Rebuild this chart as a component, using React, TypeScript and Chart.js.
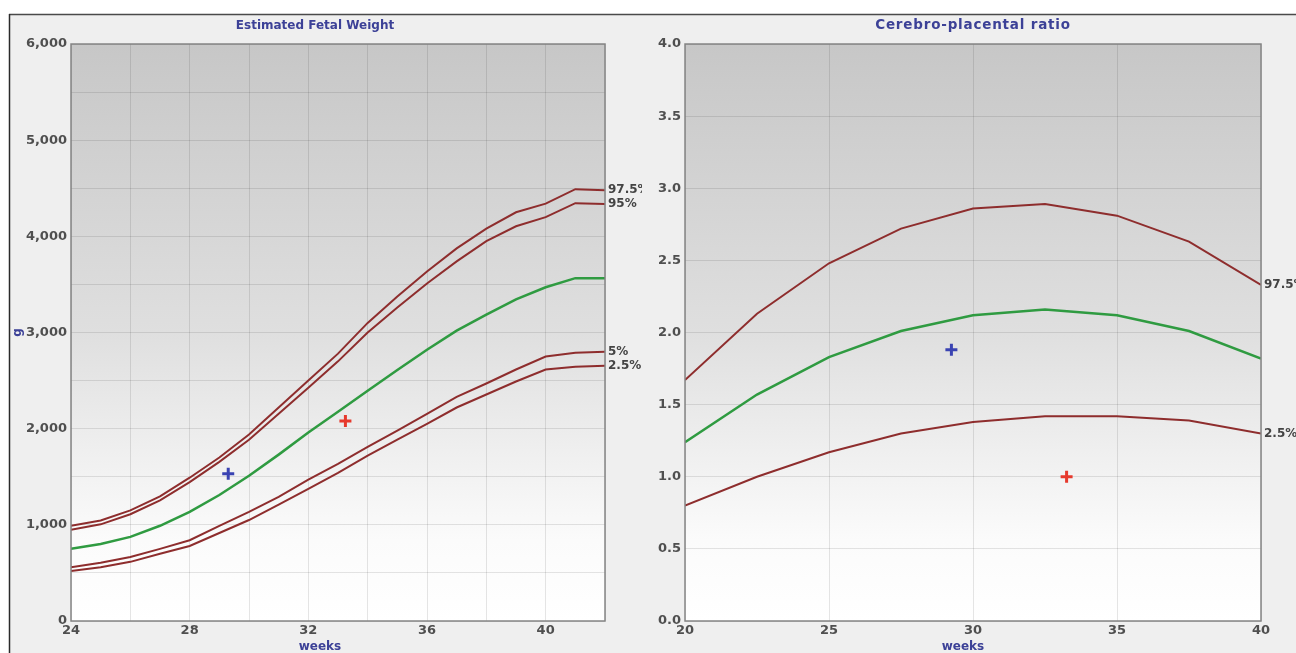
import React, { useEffect, useRef } from 'react';
import { Chart, registerables } from 'chart.js';

Chart.register(...registerables);

// ---------- Estimated Fetal Weight (g) by gestational week ----------
const efwWeeks = [24, 25, 26, 27, 28, 29, 30, 31, 32, 33, 34, 35, 36, 37, 38, 39, 40, 41, 42];
const efwP975 = [990, 1045, 1150, 1295, 1490, 1700, 1940, 2220, 2500, 2780, 3100, 3375, 3635, 3875, 4080, 4250, 4340, 4490, 4480];
const efwP95 = [950, 1005, 1110, 1255, 1445, 1655, 1885, 2155, 2425, 2700, 3000, 3260, 3510, 3740, 3950, 4105, 4200, 4345, 4335];
const efwP50 = [750, 800, 875, 990, 1135, 1310, 1510, 1730, 1960, 2175, 2395, 2610, 2820, 3020, 3185, 3345, 3470, 3565, 3565];
const efwP5 = [560, 605, 665, 750, 840, 990, 1135, 1290, 1470, 1635, 1810, 1980, 2155, 2330, 2470, 2615, 2750, 2790, 2800];
const efwP25 = [520, 560, 615, 700, 780, 915, 1050, 1210, 1375, 1540, 1720, 1885, 2050, 2220, 2355, 2490, 2615, 2645, 2655];
const efwMarkWeeks = [29.3, 33.25];
const efwMarkValues = [1530, 2080];

// ---------- Cerebro-placental ratio by gestational week ----------
const cprWeeks = [20, 22.5, 25, 27.5, 30, 32.5, 35, 37.5, 40];
const cprP975 = [1.67, 2.13, 2.48, 2.72, 2.86, 2.89, 2.81, 2.63, 2.33];
const cprP50 = [1.24, 1.57, 1.83, 2.01, 2.12, 2.16, 2.12, 2.01, 1.82];
const cprP25 = [0.8, 1.0, 1.17, 1.3, 1.38, 1.42, 1.42, 1.39, 1.3];
const cprMarkWeeks = [29.25, 33.25];
const cprMarkValues = [1.88, 1.0];

const markColors = ['#3a43b2', '#e6392d'];
const RED = '#8e2d2d';
const GREEN = '#2f9b41';
const BLUE_TEXT = '#3c4197';
const TICK_FONT = { family: 'DejaVu Sans', size: 13, weight: 'bold' as const };

const zip = (xs: number[], ys: number[]) => xs.map((x, i) => ({ x, y: ys[i] }));

const decorPlugin = {
  id: 'decor',
  beforeDraw(chart: any, _args: any, opts: any) {
    const { ctx, chartArea: a, width, height } = chart;
    ctx.save();
    ctx.fillStyle = '#ffffff';
    ctx.fillRect(0, 0, width, height);
    ctx.fillStyle = '#efefef';
    ctx.fillRect(opts.panelLeft, 14, width - opts.panelLeft, height - 14);
    const g = ctx.createLinearGradient(0, a.top, 0, a.bottom);
    g.addColorStop(0, '#c7c7c7');
    g.addColorStop(0.5, '#dfdfdf');
    g.addColorStop(0.86, '#fbfbfb');
    g.addColorStop(1, '#ffffff');
    ctx.fillStyle = g;
    ctx.fillRect(a.left, a.top, a.right - a.left, a.bottom - a.top);
    ctx.restore();
  },
  afterDraw(chart: any, _args: any, opts: any) {
    const { ctx, chartArea: a, width, height } = chart;
    ctx.save();
    // plot frame
    ctx.strokeStyle = '#858585';
    ctx.lineWidth = 1.5;
    ctx.strokeRect(a.left, a.top, a.right - a.left, a.bottom - a.top);
    // panel borders
    ctx.strokeStyle = '#4a4a4a';
    ctx.lineWidth = 1.5;
    ctx.beginPath();
    ctx.moveTo(opts.panelLeft, 14.5);
    ctx.lineTo(width, 14.5);
    ctx.stroke();
    if (opts.leftBorder) {
      ctx.strokeStyle = '#2a2a2a';
      ctx.beginPath();
      ctx.moveTo(opts.panelLeft + 0.5, 14);
      ctx.lineTo(opts.panelLeft + 0.5, height);
      ctx.stroke();
    }
    // titles
    ctx.fillStyle = BLUE_TEXT;
    ctx.font = `bold ${opts.titleSize}px "DejaVu Sans"`;
    ctx.textAlign = 'center';
    ctx.textBaseline = 'alphabetic';
    (ctx as any).letterSpacing = opts.titleSpacing || '0px';
    ctx.fillText(opts.title, opts.titleX, 29);
    (ctx as any).letterSpacing = '0px';
    ctx.font = 'bold 12px "DejaVu Sans"';
    ctx.fillText('weeks', opts.xTitleX, 650);
    if (opts.yTitle) {
      ctx.save();
      ctx.translate(opts.yTitleX, (a.top + a.bottom) / 2);
      ctx.rotate(-Math.PI / 2);
      ctx.textBaseline = 'middle';
      ctx.fillText(opts.yTitle, 0, 0);
      ctx.restore();
    }
    // percentile end labels
    ctx.fillStyle = '#444444';
    ctx.font = 'bold 12px "DejaVu Sans"';
    ctx.textAlign = 'left';
    ctx.textBaseline = 'middle';
    chart.data.datasets.forEach((ds: any, i: number) => {
      if (!ds.endLabel) return;
      const meta = chart.getDatasetMeta(i);
      const last = meta.data[meta.data.length - 1];
      ctx.fillText(ds.endLabel, a.right + 3, last.y);
    });
    ctx.restore();
  },
};

function lineDs(xs: number[], ys: number[], color: string, width: number, endLabel?: string) {
  return {
    data: zip(xs, ys),
    borderColor: color,
    borderWidth: width,
    pointRadius: 0,
    tension: 0,
    fill: false,
    endLabel,
  };
}

function markDs(x: number, y: number, color: string) {
  return {
    data: [{ x, y }],
    showLine: false,
    pointStyle: 'cross',
    pointRadius: 6,
    pointBorderWidth: 3,
    pointBorderColor: color,
    borderColor: color,
  };
}

function useChart(ref: React.RefObject<HTMLCanvasElement>, build: () => any) {
  useEffect(() => {
    if (!ref.current) return;
    const chart = new Chart(ref.current, build());
    return () => chart.destroy();
  }, []);
}

const gridOpts = { color: 'rgba(0,0,0,0.1)', drawTicks: false };

export default function App() {
  const leftRef = useRef<HTMLCanvasElement>(null);
  const rightRef = useRef<HTMLCanvasElement>(null);

  useChart(leftRef, () => ({
    type: 'line',
    data: {
      datasets: [
        lineDs(efwWeeks, efwP975, RED, 2, '97.5%'),
        lineDs(efwWeeks, efwP95, RED, 2, '95%'),
        lineDs(efwWeeks, efwP50, GREEN, 2.5),
        lineDs(efwWeeks, efwP5, RED, 2, '5%'),
        lineDs(efwWeeks, efwP25, RED, 2, '2.5%'),
        ...efwMarkWeeks.map((w, i) => markDs(w, efwMarkValues[i], markColors[i])),
      ],
    },
    options: {
      responsive: false,
      animation: false,
      devicePixelRatio: 1,
      layout: { padding: { left: 0, top: 44, right: 37, bottom: 0 } },
      plugins: {
        legend: { display: false },
        tooltip: { enabled: false },
        decor: { panelLeft: 9, leftBorder: true, title: 'Estimated Fetal Weight', titleSize: 12, titleX: 315, xTitleX: 320, yTitle: 'g', yTitleX: 18 },
      },
      scales: {
        x: {
          type: 'linear',
          min: 24,
          max: 42,
          afterFit: (s: any) => { s.height = 32; },
          grid: gridOpts,
          border: { display: false },
          ticks: {
            stepSize: 2,
            autoSkip: false,
            maxRotation: 0,
            padding: 2,
            color: '#4f4f4f',
            font: TICK_FONT,
            callback: (v: number) => ((v - 24) % 4 === 0 ? String(v) : ''),
          },
        },
        y: {
          type: 'linear',
          min: 0,
          max: 6000,
          afterFit: (s: any) => { s.width = 71; },
          grid: gridOpts,
          border: { display: false },
          ticks: {
            stepSize: 500,
            autoSkip: false,
            padding: 4,
            color: '#4f4f4f',
            font: TICK_FONT,
            callback: (v: number) => (v % 1000 === 0 ? v.toLocaleString('en-US') : ''),
          },
        },
      },
    },
    plugins: [decorPlugin],
  }));

  useChart(rightRef, () => ({
    type: 'line',
    data: {
      datasets: [
        lineDs(cprWeeks, cprP975, RED, 2, '97.5%'),
        lineDs(cprWeeks, cprP50, GREEN, 2.5),
        lineDs(cprWeeks, cprP25, RED, 2, '2.5%'),
        ...cprMarkWeeks.map((w, i) => markDs(w, cprMarkValues[i], markColors[i])),
      ],
    },
    options: {
      responsive: false,
      animation: false,
      devicePixelRatio: 1,
      layout: { padding: { left: 0, top: 44, right: 35, bottom: 0 } },
      plugins: {
        legend: { display: false },
        tooltip: { enabled: false },
        decor: { panelLeft: 0, leftBorder: false, title: 'Cerebro-placental ratio', titleSize: 13.5, titleSpacing: '0.8px', titleX: 331, xTitleX: 321 },
      },
      scales: {
        x: {
          type: 'linear',
          min: 20,
          max: 40,
          afterFit: (s: any) => { s.height = 32; },
          grid: gridOpts,
          border: { display: false },
          ticks: {
            stepSize: 5,
            autoSkip: false,
            maxRotation: 0,
            padding: 2,
            color: '#4f4f4f',
            font: TICK_FONT,
            callback: (v: number) => String(v),
          },
        },
        y: {
          type: 'linear',
          min: 0,
          max: 4,
          afterFit: (s: any) => { s.width = 43; },
          grid: gridOpts,
          border: { display: false },
          ticks: {
            stepSize: 0.5,
            autoSkip: false,
            padding: 4,
            color: '#4f4f4f',
            font: TICK_FONT,
            callback: (v: number) => v.toFixed(1),
          },
        },
      },
    },
    plugins: [decorPlugin],
  }));

  return (
    <div style={{ position: 'absolute', left: 0, top: 0, width: 1296, height: 653, overflow: 'hidden', background: '#fff' }}>
      <canvas ref={leftRef} width={642} height={653} style={{ position: 'absolute', left: 0, top: 0, width: 642, height: 653 }} />
      <canvas ref={rightRef} width={654} height={653} style={{ position: 'absolute', left: 642, top: 0, width: 654, height: 653 }} />
    </div>
  );
}
